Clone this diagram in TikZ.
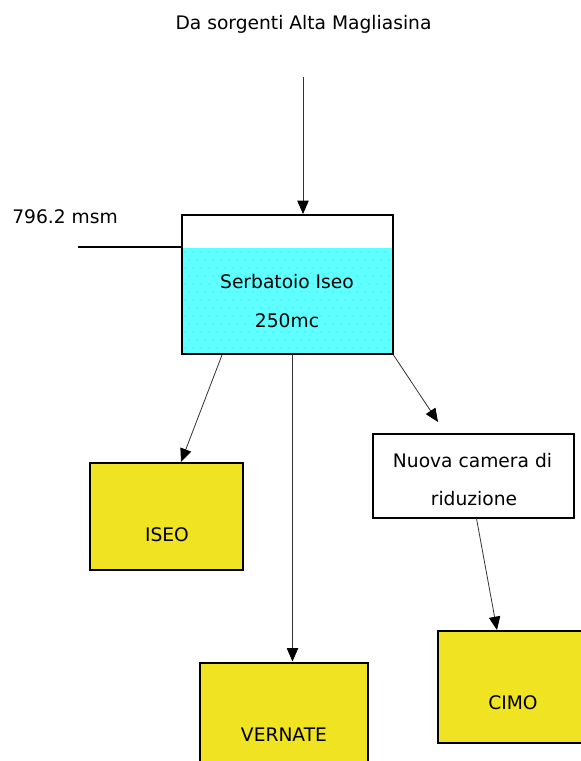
\documentclass[tikz,border=0pt]{standalone}
\usepackage{fontspec}
\setmainfont{DejaVu Sans}
\usetikzlibrary{arrows.meta}
\definecolor{boxyellow}{RGB}{240,228,34}
\definecolor{water}{RGB}{96,255,255}
\definecolor{waterdot}{RGB}{0,235,245}
\tikzset{
  every node/.style={font=\fontsize{14}{16}\selectfont, inner sep=0pt},
  yellowbox/.style={draw=black, line width=1.5pt, fill=boxyellow},
  flow/.style={draw=black!80, line width=0.6pt, -{Triangle[length=10pt,width=8.5pt,color=black,fill=black]}},
  txt/.style={anchor=base},
}
\begin{document}
\begin{tikzpicture}[x=0.75pt,y=-0.75pt]
\useasboundingbox (0,0) rectangle (581,761);
% title
\node[txt] (title) at (303.5,29) {Da sorgenti Alta Magliasina};
\coordinate (src) at (303,77);
% tank
\fill[white] (181.5,215) rectangle (392.5,248);
\fill[water] (181.5,248) rectangle (392.5,354);
\foreach \j in {0,...,12}{
  \foreach \i in {0,...,25}{
    \pgfmathsetmacro{\xx}{185+8*\i+4*mod(\j,2)}
    \pgfmathsetmacro{\yy}{252+8*\j}
    \fill[waterdot] (\xx,\yy) circle[radius=0.7];
  }
}
\node[draw=black, line width=1.5pt, minimum width=211*0.75pt, minimum height=139*0.75pt] (tank) at (287,284.5) {};
\node[txt] (tank1) at (287,288) {Serbatoio Iseo};
\node[txt] (tank2) at (287,327) {250mc};
% level
\coordinate (lvl) at (78,246.5);
\draw[line width=1.5pt] (lvl) -- (tank.west |- lvl);
\node[anchor=base west] (lvltxt) at (12,223) {796.2 msm};
% camera
\node[draw=black, line width=1.5pt, fill=white, minimum width=201*0.75pt, minimum height=84*0.75pt] (cam) at (473.5,475.5) {};
\node[txt] (cam1) at (472.5,467) {Nuova camera di};
\node[txt] (cam2) at (474,505) {riduzione};
% yellow boxes
\node[yellowbox, minimum width=153*0.75pt, minimum height=107*0.75pt] (iseo) at (166.5,516.5) {};
\node[txt] (iseot) at (167,541) {ISEO};
\node[yellowbox, minimum width=160*0.75pt, minimum height=112*0.75pt] (cimo) at (518,687) {};
\node[txt] (cimot) at (513,709) {CIMO};
\node[yellowbox, minimum width=168*0.75pt, minimum height=112*0.75pt] (vern) at (284,718.5) {};
\node[txt] (vernt) at (284,741) {VERNATE};
% connectors
\draw[flow] (src) -- (src |- tank.north);
\draw[flow] ([xshift=-65*0.75pt]tank.south) -- ([xshift=14.5*0.75pt]iseo.north);
\draw[flow] ([xshift=5.5*0.75pt]tank.south) -- ([xshift=8.5*0.75pt]vern.north);
\coordinate (camin) at (438,422);
\draw[flow] (tank.south east) -- (camin);
\draw[flow] ([xshift=3*0.75pt]cam.south) -- ([xshift=-21*0.75pt]cimo.north);
\end{tikzpicture}
\end{document}
